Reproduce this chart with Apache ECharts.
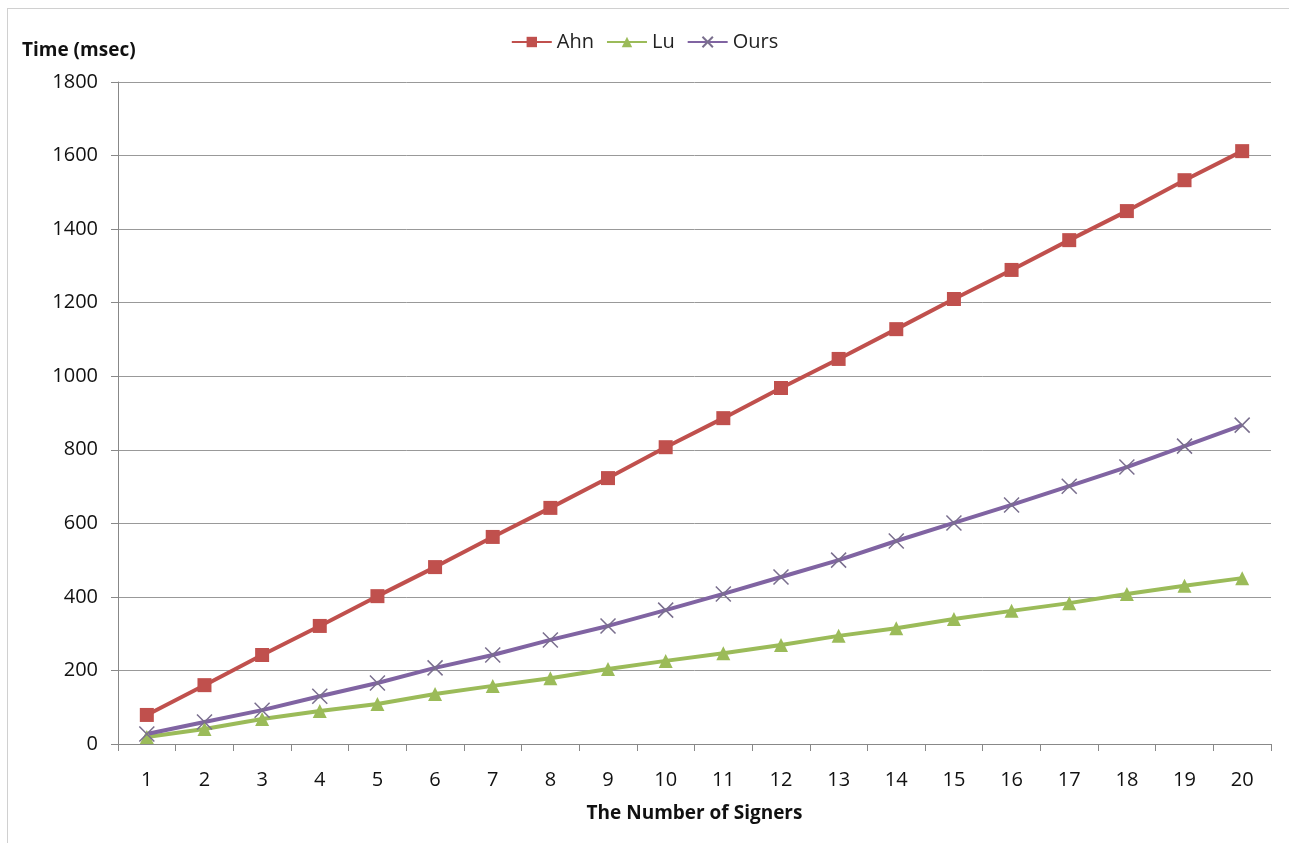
<!DOCTYPE html>
<html><head><meta charset="utf-8">
<script src="https://cdn.jsdelivr.net/npm/echarts@6/dist/echarts.min.js"></script>
<style>html,body{margin:0;padding:0;background:#fff}#c{width:1289px;height:843px}
#b{position:absolute;left:7px;top:8px;width:1290px;height:840px;border:1px solid #d0d0d0;pointer-events:none}</style>
</head><body><div id="c"></div><div id="b"></div>
<script>
const categories = ['1','2','3','4','5','6','7','8','9','10','11','12','13','14','15','16','17','18','19','20'];
const ahn = [79, 160, 242, 321, 402, 481, 563, 642, 723, 807, 886, 968, 1047, 1128, 1210, 1289, 1370, 1449, 1533, 1612];
const lu = [19, 41, 68, 90, 109, 136, 158, 179, 204, 226, 247, 269, 294, 315, 340, 362, 383, 408, 430, 451];
const ours = [27, 60, 92, 130, 166, 207, 242, 283, 321, 364, 408, 454, 500, 552, 601, 650, 701, 753, 810, 867];
const yTicks = [0, 200, 400, 600, 800, 1000, 1200, 1400, 1600, 1800];

const font = 'Open Sans';
const chart = echarts.init(document.getElementById('c'));
chart.setOption({
  animation: false,
  textStyle: {fontFamily: font},
  legend: {
    top: 27, left: 'center', itemGap: 12, itemWidth: 40, itemHeight: 13,
    textStyle: {fontSize: 20, color: '#222', fontFamily: font},
    data: ['Ahn', 'Lu', 'Ours']
  },
  grid: {left: 118, right: 18, top: 82, bottom: 99},
  xAxis: {
    type: 'category', data: categories, boundaryGap: true,
    name: 'The Number of Signers', nameLocation: 'middle', nameGap: 60,
    nameTextStyle: {fontSize: 19, fontWeight: 'bold', color: '#111', fontFamily: font},
    axisLine: {lineStyle: {color: '#888', width: 1}},
    axisTick: {show: true, length: 7, lineStyle: {color: '#888'}},
    axisLabel: {fontSize: 20, color: '#111', margin: 26}
  },
  yAxis: {
    type: 'value', min: 0, max: 1800, interval: 200,
    name: 'Time (msec)', nameLocation: 'end', nameGap: 22,
    nameTextStyle: {fontSize: 19, fontWeight: 'bold', color: '#111', align: 'left', padding: [0,0,0,-96]},
    axisLine: {show: true, lineStyle: {color: '#888'}},
    axisTick: {show: true, length: 7, lineStyle: {color: '#888'}},
    axisLabel: {fontSize: 20, color: '#111', margin: 20, formatter: v => yTicks.includes(v) ? String(v) : ''},
    splitLine: {lineStyle: {color: '#999', width: 1}}
  },
  series: [
    {name: 'Ahn', type: 'line', data: ahn, symbol: 'rect', symbolSize: 14,
     lineStyle: {color: '#c0504d', width: 4}, itemStyle: {color: '#c0504d'}},
    {name: 'Lu', type: 'line', data: lu, symbol: 'triangle', symbolSize: 14,
     lineStyle: {color: '#9bbb59', width: 4}, itemStyle: {color: '#9bbb59'}},
    {name: 'Ours', type: 'line', data: ours,
     symbol: 'path://M0,0 L10,10 M10,0 L0,10', symbolSize: 15,
     lineStyle: {color: '#8064a2', width: 4},
     itemStyle: {color: '#8064a2', borderColor: '#7a6f8e', borderWidth: 1.5}}
  ]
});
</script></body></html>
